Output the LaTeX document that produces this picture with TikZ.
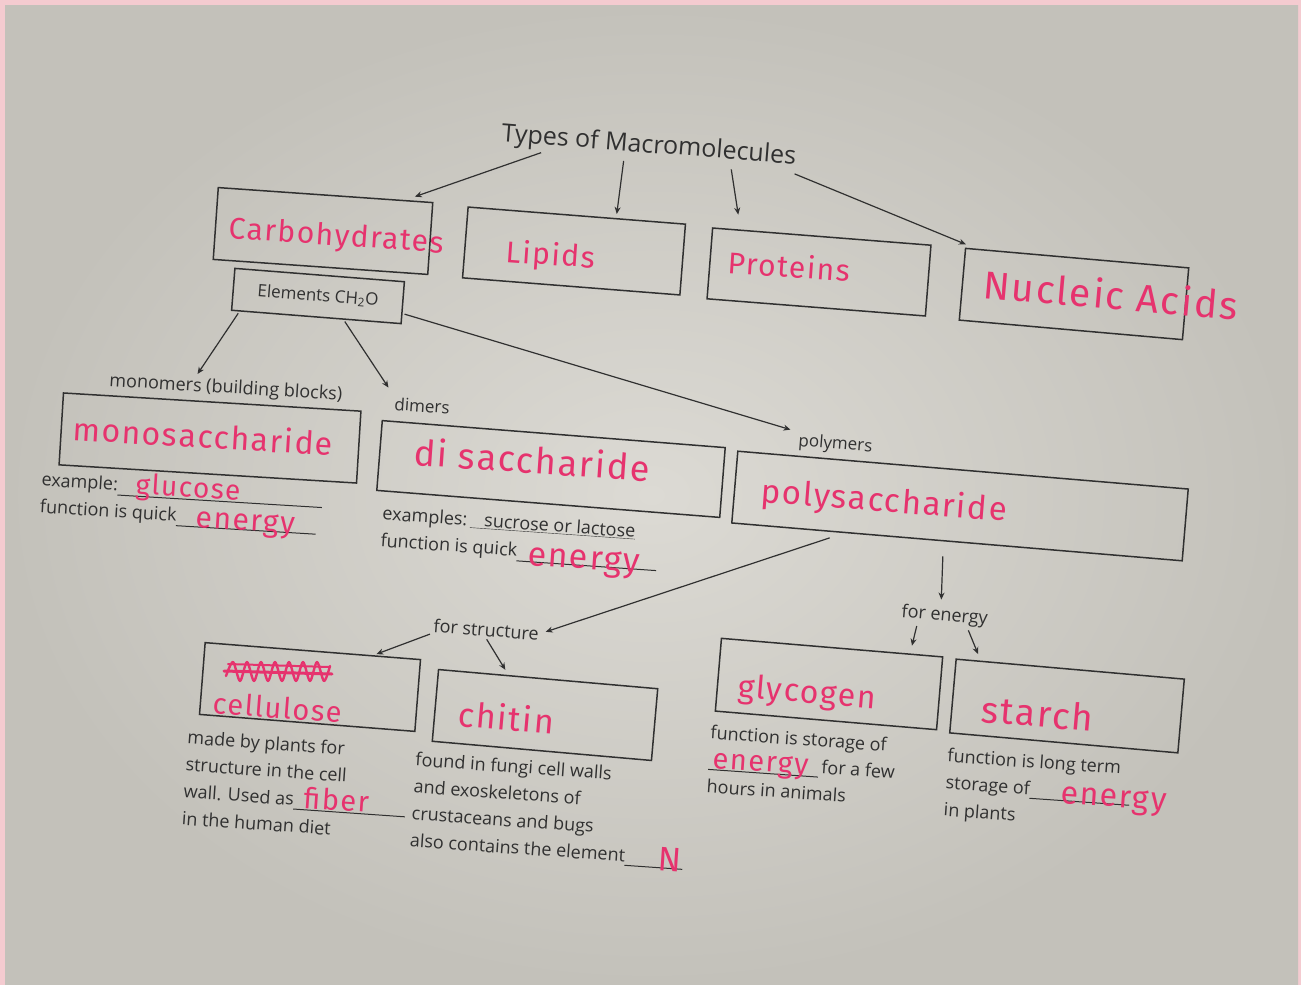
\documentclass[tikz,border=0pt]{standalone}
\usepackage{fontspec}
\setmainfont{Open Sans}
\newfontfamily\handfont{Fira Sans}[LetterSpace=5.0]
\usetikzlibrary{calc,arrows.meta}
\definecolor{ink}{HTML}{303030}
\definecolor{hwc}{HTML}{E6336E}
\definecolor{paper}{HTML}{DCDAD4}
\definecolor{paperdark}{HTML}{C3C1BA}
\definecolor{pinkb}{HTML}{F4CBD0}
\begin{document}
\begin{tikzpicture}[x=1pt,y=-1pt,
  bx/.style={draw=ink,line width=1.5pt,inner sep=0pt},
  pt/.style={text=ink,inner sep=1pt,font=\fontsize{#1}{27}\selectfont},
  pt/.default=17,
  info/.style={text=ink,inner sep=0pt,align=left,anchor=north west,font=\fontsize{18}{27}\selectfont},
  hw/.style={text=hwc,inner sep=0pt,anchor=base west,font=\handfont\fontsize{#1}{#1}\selectfont},
  hw/.default=30,
  arr/.style={draw=ink,line width=1.2pt,-{Stealth[length=7pt,width=6pt]}}]
\useasboundingbox (0,0) rectangle (1301,985);
% paper
\fill[pinkb] (0,0) rectangle (1301,985);
\shade[inner color=paper,outer color=paperdark] (5,5) rectangle (1298,985);

% title
\node[pt=25,anchor=base west,rotate=-4.5] (title) at (500,141) {Types of Macromolecules};

% top boxes
\node[bx,minimum width=215pt,minimum height=72pt,rotate=-4] (carb) at (323,231) {};
\node[bx,minimum width=218pt,minimum height=71pt,rotate=-4.5] (lipids) at (574,251) {};
\node[bx,minimum width=219pt,minimum height=71pt,rotate=-4.5] (proteins) at (819,272) {};
\node[bx,minimum width=224pt,minimum height=72pt,rotate=-5] (nucleic) at (1074,294) {};
\node[bx,minimum width=170pt,minimum height=42pt,rotate=-4.5,pt=17] (el) at (318,296) {Elements CH\textsubscript{2}O};

\node[hw,rotate=-4] (carbT) at (228,238) {Carbohydrates};
\node[hw,rotate=-4] (lipT) at (505,262) {Lipids};
\node[hw,rotate=-4] (protT) at (727,273) {Proteins};
\node[hw=39,rotate=-5] (nucT) at (982,298) {Nucleic Acids};

% second level
\node[pt=18,anchor=base west,rotate=-3.5] (monolbl) at (108,386) {monomers (building blocks)};
\node[pt=17,anchor=base west,rotate=-4] (dimlbl) at (393,410) {dimers};
\node[pt=17,anchor=base west,rotate=-4.5] (polylbl) at (797,446) {polymers};

\node[bx,minimum width=298pt,minimum height=72pt,rotate=-3.5] (mono) at (210,438) {};
\node[bx,minimum width=344pt,minimum height=70pt,rotate=-4.5] (di) at (551,469) {};
\node[bx,minimum width=452pt,minimum height=72pt,rotate=-4.8] (poly) at (960,506) {};

\node[hw=32,rotate=-3.5] (monoT) at (72,440) {monosaccharide};
\node[hw=36,rotate=-4] (diT) at (413,465) {di saccharide};
\node[hw=33,rotate=-4.5] (polyT) at (760,502) {polysaccharide};

\node[info,rotate=-3.5] (monoinfo) at (42,472) {example:\rule[-5pt]{205pt}{1pt}\\function is quick\rule[-5pt]{140pt}{1pt}};
\node[hw=28,rotate=-3.5] (glucT) at (135,494) {glucose};
\node[hw=30,rotate=-3.5] (enT1) at (195,527) {energy};

\node[info,rotate=-4] (diinfo) at (383,506) {examples:\,\underline{\hspace{14pt}sucrose or lactose}\\function is quick\rule[-5pt]{140pt}{1pt}};
\node[hw=34,rotate=-4] (enT2) at (527,565) {energy};

% third level labels
\node[pt=18,anchor=base west,rotate=-4.5] (structlbl) at (432,632) {for structure};
\node[pt=18,anchor=base west,rotate=-5] (energylbl) at (900,617) {for energy};

\node[bx,minimum width=216pt,minimum height=72pt,rotate=-4.5] (cell) at (310,687) {};
\node[bx,minimum width=220pt,minimum height=72pt,rotate=-5] (chitin) at (545,715) {};
\node[bx,minimum width=222pt,minimum height=73pt,rotate=-4.8] (glyc) at (829,684) {};
\node[bx,minimum width=229pt,minimum height=74pt,rotate=-5] (starch) at (1067,706) {};

\draw[hwc,line width=2.4pt,line join=round,line cap=round] plot[smooth] coordinates {(226,676)(233,662)(240,681)(247,662)(254,681)(261,662)(268,681)(275,662)(282,681)(289,662)(296,681)(303,662)(310,681)(317,662)(324,681)(330,666)};
\draw[hwc,line width=3pt,line cap=round] (224,671) -- (332,674);
\draw[hwc,line width=2pt,line cap=round] (228,664) -- (330,667);

\node[hw=29,rotate=-4.5] (cellT) at (212,713) {cellulose};
\node[hw=34,rotate=-5] (chitT) at (457,726) {chitin};
\node[hw=32,rotate=-4.8] (glycT) at (737,697) {glycogen};
\node[hw=37,rotate=-5] (starT) at (980,722) {starch};

\node[info,rotate=-4] (cellinfo) at (188,730) {made by plants for\\structure in the cell\\wall. Used as\rule[-4pt]{112pt}{1pt}\\in the human diet};
\node[hw=29,rotate=-4] (fibT) at (303,808) {fiber};
\node[info,rotate=-4] (chitinfo) at (416,752) {found in fungi cell walls\\and exoskeletons of\\crustaceans and bugs\\also contains the element\rule[-4pt]{58pt}{1pt}};
\node[hw=34,rotate=-4] (nT) at (657,870) {N};
\node[info,rotate=-4] (glycinfo) at (711,725) {function is storage of\\\rule[-4pt]{110pt}{1pt}\,for a few\\hours in animals};
\node[hw=29,rotate=-4] (enT3) at (712,768) {energy};
\node[info,rotate=-4] (starinfo) at (948,748) {function is long term\\storage of\rule[-4pt]{100pt}{1pt}\\in plants};
\node[hw=32,rotate=-4] (enT4) at (1060,803) {energy};

% arrows
\draw[arr,shorten <=3pt,shorten >=10pt] ($(title.south west)!0.15!(title.south east)$) -- ($(carb.north west)!0.87!(carb.north east)$);
\draw[arr,shorten <=3pt,shorten >=4pt] ($(title.south west)!0.42!(title.south east)$) -- ($(lipids.north west)!0.68!(lipids.north east)$);
\draw[arr,shorten <=3pt,shorten >=15pt] ($(title.south west)!0.78!(title.south east)$) -- ($(proteins.north west)!0.13!(proteins.north east)$);
\draw[arr,shorten <=8pt,shorten >=11pt] ($(title.south west)!0.97!(title.south east)$) -- ($(nucleic.north west)!0.05!(nucleic.north east)$);

\draw[arr,shorten <=2pt,shorten >=3pt] ($(el.south west)!0.05!(el.south east)$) -- ($(monolbl.north west)!0.37!(monolbl.north east)$);
\draw[arr,shorten <=2pt,shorten >=10pt] ($(el.south west)!0.66!(el.south east)$) -- (dimlbl.north west);
\draw[arr,shorten <=2pt,shorten >=8pt] ($(el.north east)!0.75!(el.south east)$) -- (polylbl.north west);

\draw[arr,shorten <=15pt,shorten >=6pt] ($(poly.south west)!0.25!(poly.south east)$) -- (structlbl.east);
\draw[arr,shorten <=15pt,shorten >=6pt] ($(poly.south west)!0.47!(poly.south east)$) -- ($(energylbl.north west)!0.45!(energylbl.north east)$);

\draw[arr,shorten <=2pt,shorten >=3pt] (structlbl.south west) -- ($(cell.north west)!0.78!(cell.north east)$);
\draw[arr,shorten <=2pt,shorten >=6pt] ($(structlbl.south west)!0.5!(structlbl.south east)$) -- ($(chitin.north west)!0.32!(chitin.north east)$);
\draw[arr,shorten <=2pt,shorten >=8pt] ($(energylbl.south west)!0.2!(energylbl.south east)$) -- ($(glyc.north west)!0.85!(glyc.north east)$);
\draw[arr,shorten <=2pt,shorten >=7pt] ($(energylbl.south west)!0.77!(energylbl.south east)$) -- ($(starch.north west)!0.11!(starch.north east)$);
\end{tikzpicture}
\end{document}
